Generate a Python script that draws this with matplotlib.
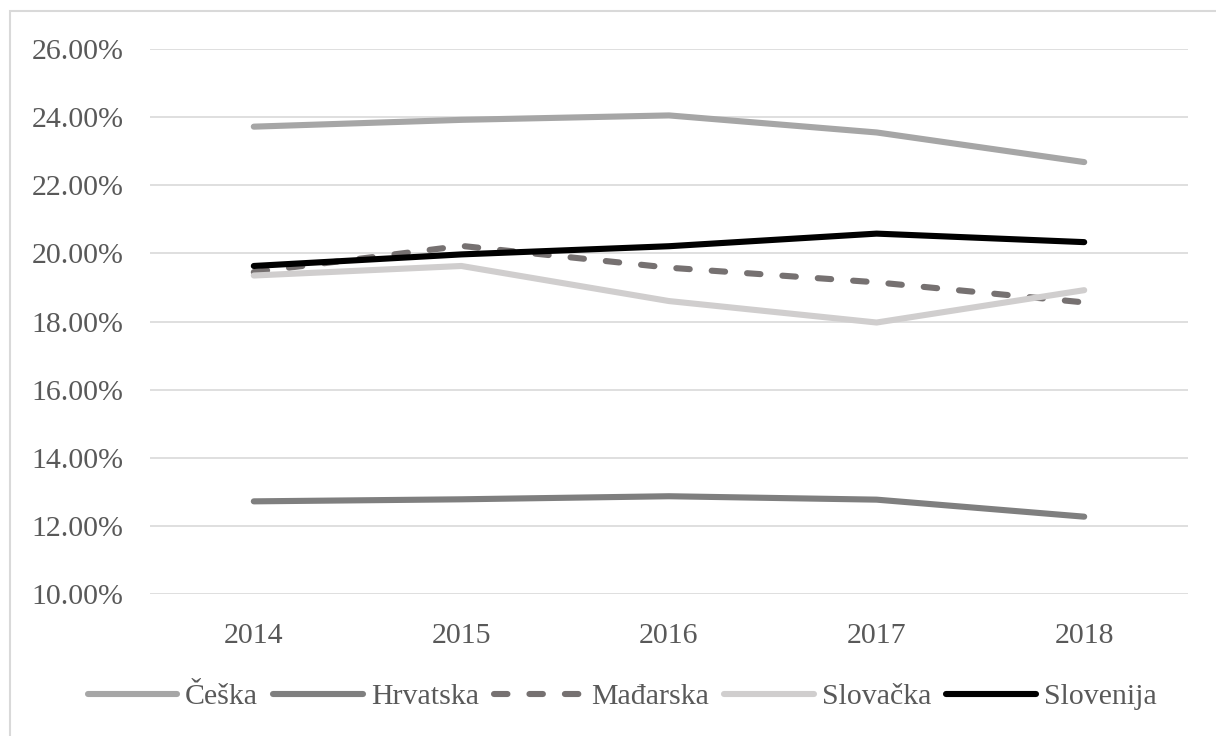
import matplotlib
matplotlib.use("Agg")
import matplotlib.pyplot as plt
import matplotlib.ticker as ticker
from matplotlib.patches import Rectangle

plt.rcParams["font.family"] = ["Liberation Serif", "DejaVu Serif"]
plt.rcParams["font.size"] = 21.5

years = ["2014", "2015", "2016", "2017", "2018"]
ceska = [23.72, 23.92, 24.05, 23.55, 22.68]
hrvatska = [12.72, 12.78, 12.87, 12.77, 12.27]
madarska = [19.45, 20.22, 19.58, 19.15, 18.56]
slovacka = [19.35, 19.63, 18.60, 17.97, 18.92]
slovenija = [19.63, 19.97, 20.21, 20.58, 20.33]

series = [
    ("Češka", ceska, "#a6a6a6", "-"),
    ("Hrvatska", hrvatska, "#7f7f7f", "-"),
    ("Mađarska", madarska, "#767171", "--"),
    ("Slovačka", slovacka, "#d0cece", "-"),
    ("Slovenija", slovenija, "#000000", "-"),
]

text_color = "#595959"
grid_color = "#d9d9d9"

fig = plt.figure(figsize=(12.16, 7.36), dpi=100)
ax = fig.add_axes([150 / 1216, 1 - 594 / 736, (1188 - 150) / 1216, (594 - 49) / 736])

x = list(range(len(years)))
for label, vals, color, ls in series:
    line, = ax.plot(x, vals, color=color, lw=4.4, label=label,
                    solid_capstyle="round", solid_joinstyle="round")
    if ls == "--":
        line.set_dashes((2.2, 3.6))
        line.set_dash_capstyle("round")

ax.set_xlim(-0.5, len(years) - 0.5)
ax.set_ylim(10, 26)
ax.yaxis.set_major_locator(ticker.MultipleLocator(2))
ax.yaxis.set_major_formatter(ticker.FuncFormatter(lambda v, p: f"{v:.2f}%"))
ax.set_xticks(x)
ax.set_xticklabels(years)
ax.grid(axis="y", color=grid_color, lw=1.2)
ax.set_axisbelow(True)
for s in ax.spines.values():
    s.set_visible(False)
ax.tick_params(length=0, colors=text_color, labelsize=21.5)
ax.tick_params(axis="y", pad=19)
ax.tick_params(axis="x", pad=21)

fig.legend(loc="center", bbox_to_anchor=(622 / 1216, 1 - 697 / 736), ncol=5,
           frameon=False, handlelength=3.0, handletextpad=0.27,
           columnspacing=0.5, fontsize=21.5, labelcolor=text_color)

fig.patches.append(Rectangle((9.5 / 1216, -0.05), 1.2, 1.05 - 11 / 736,
                             transform=fig.transFigure, fill=False,
                             edgecolor=grid_color, lw=1.5))

fig.savefig("out.png", dpi=100)
